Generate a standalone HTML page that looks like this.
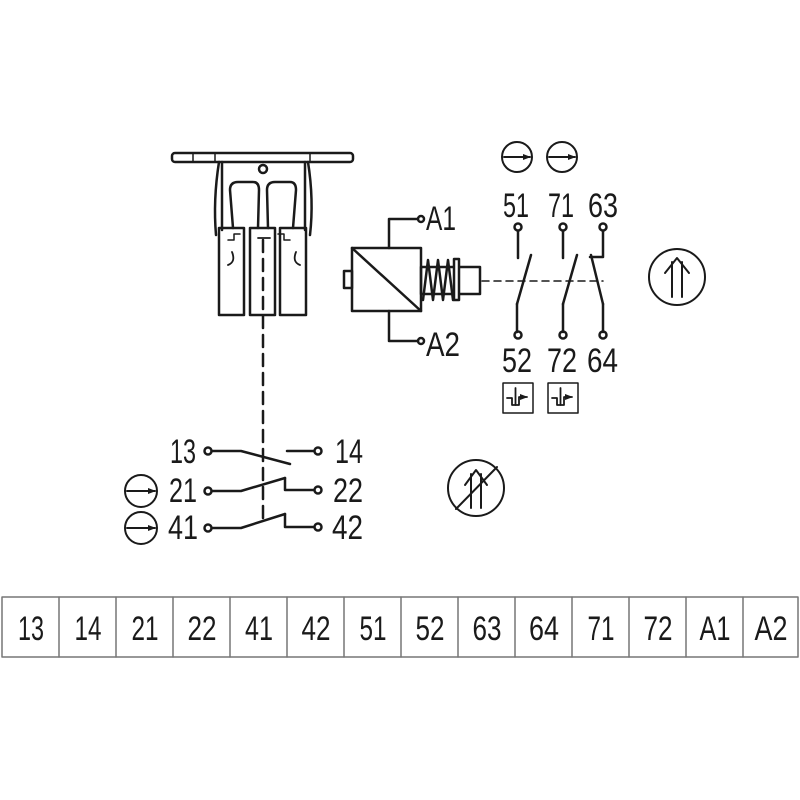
<!DOCTYPE html>
<html><head><meta charset="utf-8"><style>
html,body{margin:0;padding:0;background:#fff;}
svg{display:block;}
text{font-family:"Liberation Sans",sans-serif;font-size:34px;fill:#1a1a1a;}
</style></head><body>
<svg width="800" height="800" viewBox="0 0 800 800" xmlns="http://www.w3.org/2000/svg">
<defs>
<marker id="ah" markerWidth="8" markerHeight="8" refX="7" refY="4" orient="auto" markerUnits="userSpaceOnUse"><path d="M0,1 L8,4 L0,7 Z" fill="#1a1a1a"/></marker>
</defs>
<g fill="none" stroke="#1a1a1a" stroke-width="2.5" stroke-linecap="round" stroke-linejoin="round">
<!-- top device -->
<rect x="172" y="153" width="181" height="9" rx="3"/>
<line x1="193" y1="153" x2="193" y2="162" stroke-width="1.5"/>
<line x1="215" y1="153" x2="215" y2="162" stroke-width="1.5"/>
<line x1="310" y1="153" x2="310" y2="162" stroke-width="1.5"/>
<line x1="222" y1="162" x2="222" y2="230"/>
<line x1="305" y1="162" x2="305" y2="230"/>
<path d="M219,162 Q213,200 216,235"/>
<path d="M308,162 Q314,200 310,235"/>
<circle cx="263" cy="169" r="4"/>
<path d="M233,228 L230,190 Q230,182 238,182 L253,182 Q259,182 259,190 L258,228"/>
<path d="M268,228 L267,190 Q267,182 275,182 L290,182 Q296,182 296,190 L293,228"/>
<rect x="219" y="228" width="25" height="87"/>
<rect x="250" y="228" width="25" height="87"/>
<rect x="280" y="228" width="26" height="87"/>
<path d="M228,240 L234,240 L234,234 L240,234" stroke-width="1.5"/>
<path d="M290,240 L284,240 L284,234 L278,234" stroke-width="1.5"/>
<path d="M232,252 Q236,262 228,265" stroke-width="1.8"/>
<path d="M296,252 Q292,262 300,265" stroke-width="1.8"/>
<line x1="258" y1="238" x2="270" y2="238" stroke-width="1.8"/>
<line x1="263" y1="240" x2="263" y2="525" stroke-dasharray="12,7"/>
<!-- coil -->
<rect x="352" y="248" width="69" height="63"/>
<line x1="352" y1="248" x2="421" y2="311"/>
<rect x="344" y="271" width="8" height="17"/>
<rect x="421" y="267" width="59" height="27"/>
<path d="M423,300 L428,260 L433,300 L438,260 L443,300 L448,260 L453,300"/>
<rect x="454" y="259" width="5" height="41" fill="#fff"/>
<polyline points="389,248 389,219 418,219"/>
<polyline points="389,311 389,341 418,341"/>
<circle cx="421" cy="219" r="3"/>
<circle cx="421" cy="341" r="3"/>
<line x1="482" y1="281" x2="603" y2="281" stroke-width="1.5" stroke-dasharray="7,5"/>
<!-- contacts 51/52, 71/72, 63/64 -->
<circle cx="518" cy="227" r="3.5"/><line x1="518" y1="231" x2="518" y2="258"/>
<line x1="531" y1="255" x2="517" y2="304"/><line x1="517" y1="304" x2="517" y2="332"/><circle cx="518" cy="335" r="3.5"/>
<circle cx="563" cy="227" r="3.5"/><line x1="563" y1="231" x2="563" y2="258"/>
<line x1="577" y1="255" x2="563" y2="304"/><line x1="563" y1="304" x2="563" y2="332"/><circle cx="563" cy="335" r="3.5"/>
<circle cx="603" cy="227" r="3.5"/><polyline points="603,231 603,257 590,257"/>
<line x1="591" y1="255" x2="603" y2="304"/><line x1="603" y1="304" x2="603" y2="332"/><circle cx="603" cy="335" r="3.5"/>
<!-- arrow circles top -->
<circle cx="517" cy="157" r="15" stroke-width="2"/>
<line x1="504" y1="157" x2="530" y2="157" stroke-width="2" marker-end="url(#ah)"/>
<circle cx="562" cy="157" r="15" stroke-width="2"/>
<line x1="549" y1="157" x2="575" y2="157" stroke-width="2" marker-end="url(#ah)"/>
<!-- boxes -->
<rect x="503" y="383" width="30" height="30" stroke-width="1.5"/>
<path d="M507,398 L512,398 L512,405 L519,405 L519,397 L527,397" stroke-width="1.8" marker-end="url(#ah)"/>
<line x1="515.5" y1="388" x2="515.5" y2="405" stroke-width="1.8"/>
<rect x="548" y="383" width="30" height="30" stroke-width="1.5"/>
<path d="M552,398 L557,398 L557,405 L564,405 L564,397 L572,397" stroke-width="1.8" marker-end="url(#ah)"/>
<line x1="560.5" y1="388" x2="560.5" y2="405" stroke-width="1.8"/>
<!-- right circle -->
<circle cx="677" cy="277" r="28" stroke-width="2"/>
<line x1="672" y1="262" x2="672" y2="297" stroke-width="2"/>
<line x1="682" y1="262" x2="682" y2="297" stroke-width="2"/>
<polyline points="665,273 677,258 689,273" stroke-width="2"/>
<!-- lower circle -->
<circle cx="476" cy="488" r="28" stroke-width="2"/>
<line x1="471" y1="474" x2="471" y2="508" stroke-width="2"/>
<line x1="481" y1="474" x2="481" y2="508" stroke-width="2"/>
<polyline points="465,485 476,470 487,485" stroke-width="2"/>
<line x1="456" y1="509" x2="497" y2="467" stroke-width="2"/>
<!-- lower contacts -->
<circle cx="208" cy="451" r="3.5"/><polyline points="212,451 241,451 290,464"/>
<line x1="287" y1="451" x2="314" y2="451"/><circle cx="318" cy="451" r="3.5"/>
<circle cx="208" cy="491" r="3.5"/><polyline points="212,491 241,491 285,478"/>
<polyline points="285,478 285,490 314,490"/><circle cx="318" cy="490" r="3.5"/>
<circle cx="208" cy="528" r="3.5"/><polyline points="212,528 241,528 285,514"/>
<polyline points="285,514 285,527 314,527"/><circle cx="318" cy="527" r="3.5"/>
<circle cx="141" cy="491" r="16" stroke-width="2"/>
<line x1="127" y1="491" x2="155" y2="491" stroke-width="2" marker-end="url(#ah)"/>
<circle cx="141" cy="528" r="16" stroke-width="2"/>
<line x1="127" y1="528" x2="155" y2="528" stroke-width="2" marker-end="url(#ah)"/>
<!-- table -->
<rect x="2" y="597" width="796" height="60" stroke="#777" stroke-width="1.5"/>
<g stroke="#777" stroke-width="1.5">
<line x1="59" y1="597" x2="59" y2="657"/><line x1="116" y1="597" x2="116" y2="657"/>
<line x1="173" y1="597" x2="173" y2="657"/><line x1="230" y1="597" x2="230" y2="657"/>
<line x1="287" y1="597" x2="287" y2="657"/><line x1="344" y1="597" x2="344" y2="657"/>
<line x1="401" y1="597" x2="401" y2="657"/><line x1="458" y1="597" x2="458" y2="657"/>
<line x1="515" y1="597" x2="515" y2="657"/><line x1="572" y1="597" x2="572" y2="657"/>
<line x1="629" y1="597" x2="629" y2="657"/><line x1="686" y1="597" x2="686" y2="657"/>
<line x1="743" y1="597" x2="743" y2="657"/>
</g>
</g>
<g>
<text x="503" y="217" textLength="26" lengthAdjust="spacingAndGlyphs">51</text>
<text x="548" y="217" textLength="26" lengthAdjust="spacingAndGlyphs">71</text>
<text x="588" y="217" textLength="30" lengthAdjust="spacingAndGlyphs">63</text>
<text x="502" y="372" textLength="30" lengthAdjust="spacingAndGlyphs">52</text>
<text x="547" y="372" textLength="30" lengthAdjust="spacingAndGlyphs">72</text>
<text x="587" y="372" textLength="31" lengthAdjust="spacingAndGlyphs">64</text>
<text x="426" y="230" textLength="30" lengthAdjust="spacingAndGlyphs">A1</text>
<text x="426" y="356" textLength="34" lengthAdjust="spacingAndGlyphs">A2</text>
<text x="170" y="463" textLength="26" lengthAdjust="spacingAndGlyphs">13</text>
<text x="169" y="502" textLength="28" lengthAdjust="spacingAndGlyphs">21</text>
<text x="168" y="539" textLength="30" lengthAdjust="spacingAndGlyphs">41</text>
<text x="335" y="463" textLength="28" lengthAdjust="spacingAndGlyphs">14</text>
<text x="333" y="502" textLength="30" lengthAdjust="spacingAndGlyphs">22</text>
<text x="332" y="539" textLength="31" lengthAdjust="spacingAndGlyphs">42</text>
</g>
<g text-anchor="middle">
<text x="31" y="640" textLength="26" lengthAdjust="spacingAndGlyphs">13</text>
<text x="88" y="640" textLength="27" lengthAdjust="spacingAndGlyphs">14</text>
<text x="145" y="640" textLength="27" lengthAdjust="spacingAndGlyphs">21</text>
<text x="202" y="640" textLength="29" lengthAdjust="spacingAndGlyphs">22</text>
<text x="259" y="640" textLength="28" lengthAdjust="spacingAndGlyphs">41</text>
<text x="316" y="640" textLength="29" lengthAdjust="spacingAndGlyphs">42</text>
<text x="373" y="640" textLength="27" lengthAdjust="spacingAndGlyphs">51</text>
<text x="430" y="640" textLength="29" lengthAdjust="spacingAndGlyphs">52</text>
<text x="487" y="640" textLength="29" lengthAdjust="spacingAndGlyphs">63</text>
<text x="544" y="640" textLength="30" lengthAdjust="spacingAndGlyphs">64</text>
<text x="601" y="640" textLength="27" lengthAdjust="spacingAndGlyphs">71</text>
<text x="658" y="640" textLength="29" lengthAdjust="spacingAndGlyphs">72</text>
<text x="715" y="640" textLength="31" lengthAdjust="spacingAndGlyphs">A1</text>
<text x="771" y="640" textLength="33" lengthAdjust="spacingAndGlyphs">A2</text>
</g>
</svg>
</body></html>
